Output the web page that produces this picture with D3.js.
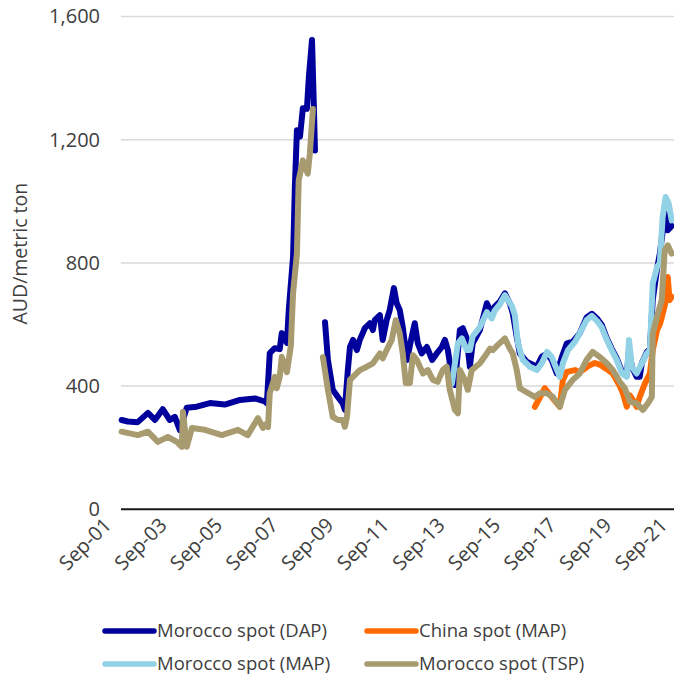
<!DOCTYPE html>
<html>
<head>
<meta charset="utf-8">
<script src="https://cdn.jsdelivr.net/npm/d3@7"></script>
<style>
  body { margin: 0; background: #fff; }
  text { font-family: "Open Sans", "Noto Sans", sans-serif; fill: #404040; }
</style>
</head>
<body>
<div id="chart"></div>
<script>

// AUD/metric ton (null = break in the series)
const moroccoDAP = [
    ["2001-11-01",290],["2002-01-22",285],["2002-06-01",283],["2002-10-12",313],["2003-01-12",290],
    ["2003-04-25",325],["2003-07-27",290],["2003-10-01",300],["2003-12-06",257],["2004-03-06",330],
    ["2004-07-15",333],["2005-01-03",345],["2005-07-18",340],["2006-02-03",355],["2006-08-18",360],
    ["2006-12-27",350],["2007-01-22",344],["2007-03-01",507],["2007-05-06",523],["2007-07-10",520],
    ["2007-08-06",572],["2007-10-12",540],["2007-11-06",648],["2008-01-01",818],["2008-01-25",1047],
    ["2008-02-21",1231],["2008-04-01",1210],["2008-05-09",1302],["2008-07-01",1300],["2008-07-27",1404],
    ["2008-09-06",1524],["2008-10-01",1304],["2008-10-15",1165],["2008-12-15",null],
    ["2009-02-24",607],["2009-04-03",485],["2009-06-06",388],["2009-08-12",365],["2009-10-15",344],
    ["2009-11-12",323],["2009-12-21",452],["2010-01-18",527],["2010-02-27",550],["2010-04-18",517],
    ["2010-05-27",550],["2010-08-01",588],["2010-10-06",604],["2010-11-15",582],["2010-12-09",614],
    ["2011-02-15",630],["2011-03-24",550],["2011-05-15",614],["2011-06-24",647],["2011-08-18",718],
    ["2011-09-24",669],["2011-11-03",647],["2011-12-12",592],["2012-02-06",485],["2012-04-09",561],
    ["2012-05-18",604],["2012-06-27",539],["2012-08-18",506],["2012-10-24",527],["2013-01-01",485],
    ["2013-03-03",506],["2013-05-09",527],["2013-06-18",550],["2013-07-27",517],["2013-09-18",430],
    ["2013-10-27",404],["2014-01-01",582],["2014-02-09",588],["2014-04-01",555],["2014-05-12",463],
    ["2014-06-18",539],["2014-09-21",582],["2014-12-21",669],["2015-02-24",636],["2015-04-03",658],
    ["2015-06-09",674],["2015-08-15",701],["2015-10-18",669],["2015-11-27",636],["2016-01-18",560],
    ["2016-02-27",506],["2016-05-27",479],["2016-10-09",463],["2016-12-12",495],["2017-02-18",506],
    ["2017-04-21",485],["2017-06-27",441],["2017-09-03",495],["2017-11-06",539],["2018-01-24",544],
    ["2018-04-24",571],["2018-07-24",623],["2018-10-01",635],["2018-12-06",620],["2019-02-09",598],
    ["2019-04-15",555],["2019-06-18",522],["2019-08-24",490],["2019-11-01",446],["2020-01-03",435],
    ["2020-02-01",520],["2020-03-09",463],["2020-05-12",430],["2020-06-21",430],["2020-07-18",474],
    ["2020-09-21",510],["2020-11-01",520],["2020-12-09",680],["2021-02-03",780],["2021-03-12",830],
    ["2021-04-18",900],["2021-05-27",960],["2021-06-24",906],["2021-08-15",920]
];

const chinaMAP = [
    ["2016-09-12",333],["2017-01-21",393],["2017-04-21",365],["2017-08-06",333],["2017-09-15",420],
    ["2017-11-06",446],["2018-02-21",452],["2018-04-24",445],["2018-09-03",468],["2018-11-09",475],
    ["2019-01-12",470],["2019-04-15",455],["2019-07-03",441],["2019-10-03",400],["2019-11-12",377],
    ["2020-01-03",333],["2020-02-12",370],["2020-03-21",355],["2020-05-12",333],["2020-06-21",365],
    ["2020-08-27",408],["2020-11-01",441],["2020-12-09",517],["2021-02-03",582],["2021-03-12",600],
    ["2021-04-06",623],["2021-05-15",661],["2021-06-09",701],["2021-06-24",754],["2021-07-18",679],
    ["2021-08-15",690]
];

const moroccoMAP = [
    ["2013-09-18",408],["2013-12-06",539],["2014-01-27",555],["2014-04-01",517],["2014-05-12",517],
    ["2014-06-18",561],["2014-09-21",592],["2014-12-21",640],["2015-02-24",620],["2015-04-03",645],
    ["2015-06-09",665],["2015-08-15",695],["2015-11-15",660],["2015-12-24",630],["2016-02-03",539],
    ["2016-04-06",485],["2016-07-06",463],["2016-10-09",452],["2016-12-12",474],["2017-02-18",511],
    ["2017-04-21",495],["2017-08-06",430],["2017-09-15",474],["2017-11-21",517],["2018-02-21",544],
    ["2018-04-24",571],["2018-07-24",614],["2018-10-01",628],["2018-12-06",612],["2019-02-09",590],
    ["2019-04-15",550],["2019-06-18",517],["2019-08-24",485],["2019-11-01",441],["2020-01-03",430],
    ["2020-02-01",550],["2020-03-09",463],["2020-05-12",441],["2020-07-18",474],["2020-09-21",506],
    ["2020-11-01",517],["2020-12-09",733],["2021-02-03",787],["2021-03-12",800],["2021-04-18",949],
    ["2021-05-27",1014],["2021-07-06",993],["2021-08-15",938]
];

const moroccoTSP = [
    ["2001-11-01",252],["2002-06-01",241],["2002-10-12",252],["2003-02-20",219],["2003-07-01",235],
    ["2003-10-27",219],["2004-01-01",203],["2004-01-15",317],["2004-03-06",203],["2004-05-12",264],
    ["2004-11-01",258],["2005-06-09",241],["2006-01-06",258],["2006-05-15",241],["2006-09-27",296],
    ["2006-12-01",264],["2006-12-27",275],["2007-02-06",267],["2007-03-01",377],["2007-05-06",430],
    ["2007-06-01",393],["2007-07-10",430],["2007-08-06",495],["2007-10-12",445],["2007-12-03",530],
    ["2008-01-01",701],["2008-02-21",831],["2008-03-15",1068],["2008-05-09",1133],["2008-07-12",1090],
    ["2008-08-09",1155],["2008-09-18",1300],["2008-12-15",null],
    ["2009-01-27",494],["2009-04-03",388],["2009-06-06",300],["2009-08-12",290],["2009-10-15",290],
    ["2009-11-12",268],["2009-12-09",300],["2010-01-18",420],["2010-02-27",430],["2010-05-27",452],
    ["2010-08-27",463],["2010-11-15",474],["2011-02-15",506],["2011-03-24",490],["2011-05-15",517],
    ["2011-07-21",550],["2011-09-12",614],["2011-11-03",571],["2011-12-12",506],["2012-01-21",410],
    ["2012-03-15",410],["2012-04-24",500],["2012-06-15",485],["2012-07-24",463],["2012-09-03",441],
    ["2012-11-06",452],["2013-01-12",420],["2013-03-15",414],["2013-05-21",452],["2013-07-12",463],
    ["2013-08-21",388],["2013-10-27",323],["2013-12-06",312],["2014-01-01",452],["2014-03-06",420],
    ["2014-04-15",388],["2014-06-06",452],["2014-09-21",474],["2014-12-21",506],["2015-02-01",522],
    ["2015-03-09",517],["2015-05-12",533],["2015-08-15",555],["2015-10-18",522],["2015-11-27",506],
    ["2016-01-18",452],["2016-02-27",393],["2016-05-27",380],["2016-09-12",365],["2016-11-18",377],
    ["2017-02-18",377],["2017-05-06",365],["2017-08-06",333],["2017-10-12",388],["2018-01-24",420],
    ["2018-04-24",441],["2018-07-24",485],["2018-10-12",511],["2019-01-12",495],["2019-04-15",474],
    ["2019-07-03",452],["2019-10-03",414],["2019-12-09",393],["2020-02-12",349],["2020-05-12",344],
    ["2020-08-01",323],["2020-10-06",344],["2020-11-27",365],["2020-12-09",571],["2021-02-15",636],
    ["2021-04-06",679],["2021-05-15",840],["2021-06-24",857],["2021-08-15",830]
];

const seriesNames = ["Morocco spot (DAP)", "China spot (MAP)", "Morocco spot (MAP)", "Morocco spot (TSP)"];
const seriesColours = ["#00009c", "#ff6a00", "#92d2e6", "#a99b70"];
const yTicks = [0, 400, 800, 1200, 1600];
const xTickDates = ["2001-09-01","2003-09-01","2005-09-01","2007-09-01","2009-09-01","2011-09-01",
                    "2013-09-01","2015-09-01","2017-09-01","2019-09-01","2021-09-01"];

const width = 674;
const height = 681;
const parseDate = d3.timeParse("%Y-%m-%d");

let svg = d3.select("#chart")
    .append("svg")
    .attr("width", width)
    .attr("height", height);

let xScale = d3.scaleTime()
    .domain([parseDate("2001-09-01"), parseDate("2021-09-01")])
    .range([117, 673]);

let yScale = d3.scaleLinear()
    .domain([0, 1600])
    .range([509.3, 16.5]);

const plotLeft = 121;
const plotRight = 674;

// gridlines
svg.append("g")
    .selectAll("line")
    .data(yTicks.filter(d => d > 0))
    .join("line")
    .attr("x1", plotLeft)
    .attr("x2", plotRight)
    .attr("y1", d => yScale(d))
    .attr("y2", d => yScale(d))
    .attr("stroke", "#d9d9d9")
    .attr("stroke-width", 1.5);

// y axis labels
let yAxis = d3.axisLeft(yScale)
    .tickValues(yTicks)
    .tickFormat(d3.format(","))
    .tickSize(0)
    .tickPadding(0);

svg.append("g")
    .attr("class", "y-axis")
    .attr("transform", "translate(100, 0)")
    .call(yAxis)
    .call(g => g.select(".domain").remove())
    .selectAll("text")
    .style("font-size", "20px")
    .style("font-family", "'Open Sans', sans-serif")
    .attr("fill", "#404040");

svg.append("text")
    .attr("transform", `translate(27, ${yScale(830)}) rotate(-90)`)
    .attr("text-anchor", "middle")
    .style("font-size", "19.5px")
    .text("AUD/metric ton");

// lines
let lineGen = d3.line()
    .defined(d => d[1] !== null)
    .x(d => xScale(parseDate(d[0])))
    .y(d => yScale(d[1]));

const allSeries = [moroccoDAP, chinaMAP, moroccoMAP, moroccoTSP];

svg.append("g")
    .selectAll("path")
    .data(allSeries)
    .join("path")
    .attr("d", d => lineGen(d))
    .attr("fill", "none")
    .attr("stroke", (d, i) => seriesColours[i])
    .attr("stroke-width", 6)
    .attr("stroke-linejoin", "round")
    .attr("stroke-linecap", "round");

// zero axis line
svg.append("line")
    .attr("x1", plotLeft)
    .attr("x2", plotRight)
    .attr("y1", yScale(0))
    .attr("y2", yScale(0))
    .attr("stroke", "#1a1a1a")
    .attr("stroke-width", 2);

// x axis labels
let xAxis = d3.axisBottom(xScale)
    .tickValues(xTickDates.map(parseDate))
    .tickFormat(d3.timeFormat("Sep-%y"))
    .tickSize(0);

svg.append("g")
    .attr("class", "x-axis")
    .attr("transform", `translate(0, ${yScale(0)})`)
    .call(xAxis)
    .call(g => g.select(".domain").remove())
    .selectAll("text")
    .attr("text-anchor", "end")
    .attr("dy", null)
    .attr("y", null)
    .attr("transform", "translate(-5, 17) rotate(-45)")
    .style("font-size", "20px")
    .style("font-family", "'Open Sans', sans-serif")
    .attr("fill", "#404040");

// legend
const legendX = [105, 367];
const legendY = [631, 664];

let legend = svg.append("g")
    .selectAll("g")
    .data(seriesNames)
    .join("g")
    .attr("transform", (d, i) => `translate(${legendX[i % 2]}, ${legendY[Math.floor(i / 2)]})`);

legend.append("line")
    .attr("x1", 0)
    .attr("x2", 49)
    .attr("stroke", (d, i) => seriesColours[i])
    .attr("stroke-width", 5.5)
    .attr("stroke-linecap", "round");

legend.append("text")
    .attr("x", 52)
    .attr("dy", "0.35em")
    .style("font-size", "18.5px")
    .text(d => d);

</script>
</body>
</html>
